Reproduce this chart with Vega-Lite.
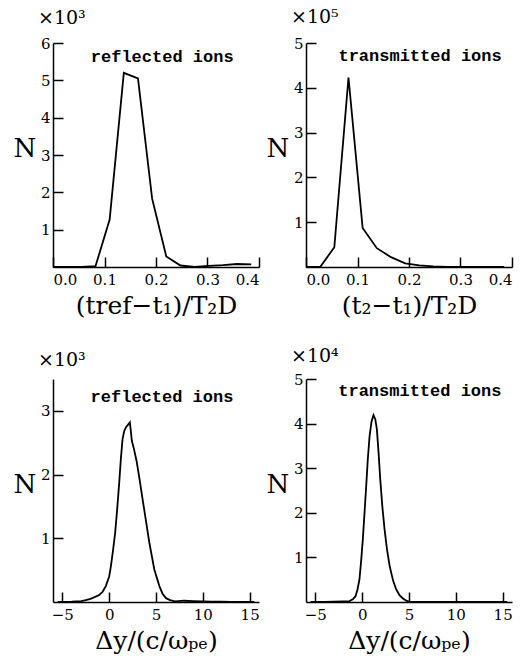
{
  "$schema": "https://vega.github.io/schema/vega-lite/v6.json",
  "background": "white",
  "padding": {"left": 13, "top": 8, "right": 5, "bottom": 5},
  "bounds": "flush",
  "columns": 2,
  "spacing": {"row": 112, "column": 47},
  "datasets": {
    "refl_t": [
      {"x": 0, "N": 0}, {"x": 0.0275, "N": 0}, {"x": 0.055, "N": 0}, {"x": 0.0825, "N": 0.02},
      {"x": 0.11, "N": 1.27}, {"x": 0.1375, "N": 5.2}, {"x": 0.165, "N": 5.05}, {"x": 0.1925, "N": 1.83},
      {"x": 0.22, "N": 0.28}, {"x": 0.2475, "N": 0.04}, {"x": 0.275, "N": 0.0}, {"x": 0.3025, "N": 0.03},
      {"x": 0.33, "N": 0.05}, {"x": 0.3575, "N": 0.08}, {"x": 0.385, "N": 0.07}
    ],
    "trans_t": [
      {"x": 0, "N": 0}, {"x": 0.0275, "N": 0}, {"x": 0.055, "N": 0.44}, {"x": 0.0825, "N": 4.23},
      {"x": 0.11, "N": 0.87}, {"x": 0.1375, "N": 0.42}, {"x": 0.165, "N": 0.22}, {"x": 0.1925, "N": 0.08},
      {"x": 0.22, "N": 0.035}, {"x": 0.2475, "N": 0.015}, {"x": 0.275, "N": 0.005}, {"x": 0.3025, "N": 0},
      {"x": 0.33, "N": 0}, {"x": 0.3575, "N": 0}, {"x": 0.385, "N": 0}
    ],
    "refl_y": [
      {"x": -5.5, "N": 0}, {"x": -5, "N": 0}, {"x": -4, "N": 0.005}, {"x": -3, "N": 0.015},
      {"x": -2.5, "N": 0.03}, {"x": -2, "N": 0.05}, {"x": -1.5, "N": 0.08}, {"x": -1.07, "N": 0.11},
      {"x": -0.7, "N": 0.16}, {"x": -0.36, "N": 0.25}, {"x": 0, "N": 0.4}, {"x": 0.18, "N": 0.56},
      {"x": 0.4, "N": 0.8}, {"x": 0.64, "N": 1.09}, {"x": 0.85, "N": 1.45}, {"x": 1.07, "N": 1.87},
      {"x": 1.25, "N": 2.25}, {"x": 1.43, "N": 2.56}, {"x": 1.6, "N": 2.68}, {"x": 1.78, "N": 2.74},
      {"x": 2.0, "N": 2.78}, {"x": 2.21, "N": 2.82}, {"x": 2.3, "N": 2.7}, {"x": 2.42, "N": 2.53},
      {"x": 2.65, "N": 2.4}, {"x": 2.93, "N": 2.21}, {"x": 3.25, "N": 1.92}, {"x": 3.57, "N": 1.61},
      {"x": 3.9, "N": 1.3}, {"x": 4.29, "N": 0.93}, {"x": 4.82, "N": 0.51}, {"x": 5.36, "N": 0.25},
      {"x": 5.7, "N": 0.13}, {"x": 6.07, "N": 0.06}, {"x": 6.5, "N": 0.03}, {"x": 7, "N": 0.01},
      {"x": 8, "N": 0.02}, {"x": 9, "N": 0.015}, {"x": 10, "N": 0.01}, {"x": 11, "N": 0.005},
      {"x": 12, "N": 0.005}, {"x": 13, "N": 0.003}, {"x": 14, "N": 0.002}, {"x": 15, "N": 0.002},
      {"x": 15.5, "N": 0}
    ],
    "trans_y": [
      {"x": -5.5, "N": 0}, {"x": -5, "N": 0.005}, {"x": -4, "N": 0.005}, {"x": -3, "N": 0.008},
      {"x": -2, "N": 0.015}, {"x": -1.36, "N": 0.02}, {"x": -1, "N": 0.06}, {"x": -0.71, "N": 0.13},
      {"x": -0.5, "N": 0.28}, {"x": -0.29, "N": 0.51}, {"x": -0.1, "N": 0.95}, {"x": 0.07, "N": 1.41},
      {"x": 0.25, "N": 2.0}, {"x": 0.43, "N": 2.6}, {"x": 0.6, "N": 3.2}, {"x": 0.79, "N": 3.72},
      {"x": 1.0, "N": 4.05}, {"x": 1.21, "N": 4.19}, {"x": 1.4, "N": 4.1}, {"x": 1.57, "N": 3.87},
      {"x": 1.75, "N": 3.35}, {"x": 1.93, "N": 2.75}, {"x": 2.15, "N": 2.15}, {"x": 2.39, "N": 1.63},
      {"x": 2.65, "N": 1.18}, {"x": 2.93, "N": 0.81}, {"x": 3.3, "N": 0.48}, {"x": 3.64, "N": 0.28},
      {"x": 4.0, "N": 0.15}, {"x": 4.36, "N": 0.08}, {"x": 4.7, "N": 0.03}, {"x": 5.07, "N": 0.005},
      {"x": 6, "N": 0}, {"x": 15.5, "N": 0}
    ]
  },
  "concat": [
    {
      "width": 206, "height": 224,
      "title": {"text": "×10³", "offset": 8},
      "layer": [
        {
          "data": {"name": "refl_t"},
          "mark": {"type": "line", "color": "black", "strokeWidth": 1.8},
          "encoding": {
            "x": {"field": "x", "type": "quantitative", "scale": {"domain": [0, 0.4], "nice": false, "zero": false},
                  "axis": {"values": [0, 0.1, 0.2, 0.3, 0.4], "format": ".1f", "title": "(tref−t₁)/T₂D"}},
            "y": {"field": "N", "type": "quantitative", "scale": {"domain": [0, 6], "nice": false},
                  "axis": {"values": [1, 2, 3, 4, 5, 6], "format": "d", "title": "N"}}
          }
        },
        {
          "data": {"values": [{"label": "reflected ions"}]},
          "mark": {"type": "text", "font": "Liberation Mono", "fontWeight": "bold", "fontSize": 17, "align": "center", "baseline": "alphabetic", "color": "black"},
          "encoding": {"x": {"datum": 0.212}, "y": {"datum": 5.49}, "text": {"field": "label"}}
        }
      ]
    },
    {
      "width": 206, "height": 224,
      "title": {"text": "×10⁵", "offset": 9},
      "layer": [
        {
          "data": {"name": "trans_t"},
          "mark": {"type": "line", "color": "black", "strokeWidth": 1.8},
          "encoding": {
            "x": {"field": "x", "type": "quantitative", "scale": {"domain": [0, 0.4], "nice": false, "zero": false},
                  "axis": {"values": [0, 0.1, 0.2, 0.3, 0.4], "format": ".1f", "title": "(t₂−t₁)/T₂D"}},
            "y": {"field": "N", "type": "quantitative", "scale": {"domain": [0, 5], "nice": false},
                  "axis": {"values": [1, 2, 3, 4, 5], "format": "d", "title": "N"}}
          }
        },
        {
          "data": {"values": [{"label": "transmitted ions"}]},
          "mark": {"type": "text", "font": "Liberation Mono", "fontWeight": "bold", "fontSize": 17, "align": "center", "baseline": "alphabetic", "color": "black"},
          "encoding": {"x": {"datum": 0.2215}, "y": {"datum": 4.59}, "text": {"field": "label"}}
        }
      ]
    },
    {
      "width": 206, "height": 223,
      "title": {"text": "×10³", "offset": 9},
      "layer": [
        {
          "data": {"name": "refl_y"},
          "mark": {"type": "line", "color": "black", "strokeWidth": 1.8},
          "encoding": {
            "x": {"field": "x", "type": "quantitative", "scale": {"domain": [-6, 16], "nice": false, "zero": false},
                  "axis": {"values": [-5, 0, 5, 10, 15], "format": "d", "title": "Δy/(c/ωₚₑ)"}},
            "y": {"field": "N", "type": "quantitative", "scale": {"domain": [0, 3.5], "nice": false},
                  "axis": {"values": [1, 2, 3], "format": "d", "title": "N"}}
          }
        },
        {
          "data": {"values": [{"label": "reflected ions"}]},
          "mark": {"type": "text", "font": "Liberation Mono", "fontWeight": "bold", "fontSize": 17, "align": "center", "baseline": "alphabetic", "color": "black"},
          "encoding": {"x": {"datum": 5.64}, "y": {"datum": 3.145}, "text": {"field": "label"}}
        }
      ]
    },
    {
      "width": 206, "height": 223,
      "title": {"text": "×10⁴", "offset": 6},
      "layer": [
        {
          "data": {"name": "trans_y"},
          "mark": {"type": "line", "color": "black", "strokeWidth": 1.8},
          "encoding": {
            "x": {"field": "x", "type": "quantitative", "scale": {"domain": [-6, 16], "nice": false, "zero": false},
                  "axis": {"values": [-5, 0, 5, 10, 15], "format": "d", "title": "Δy/(c/ωₚₑ)"}},
            "y": {"field": "N", "type": "quantitative", "scale": {"domain": [0, 5], "nice": false},
                  "axis": {"values": [1, 2, 3, 4, 5], "format": "d", "title": "N"}}
          }
        },
        {
          "data": {"values": [{"label": "transmitted ions"}]},
          "mark": {"type": "text", "font": "Liberation Mono", "fontWeight": "bold", "fontSize": 17, "align": "center", "baseline": "alphabetic", "color": "black"},
          "encoding": {"x": {"datum": 6.16}, "y": {"datum": 4.63}, "text": {"field": "label"}}
        }
      ]
    }
  ],
  "config": {
    "view": {"stroke": null},
    "axis": {
      "grid": false,
      "domainColor": "black", "domainWidth": 1.5,
      "tickColor": "black", "tickWidth": 1.5, "tickSize": -10,
      "labelFont": "DejaVu Serif", "labelFontSize": 15, "labelColor": "black",
      "titleFont": "DejaVu Serif", "titleColor": "black", "titleFontWeight": "normal"
    },
    "axisX": {"labelPadding": 15, "titleFontSize": 25, "titlePadding": 6},
    "axisY": {"labelPadding": 13, "titleFontSize": 26, "titleAngle": 0, "titleX": -40, "titleY": 113, "titleAlign": "left", "titleBaseline": "alphabetic"},
    "title": {"font": "DejaVu Serif", "fontSize": 19, "fontWeight": "normal", "color": "black", "anchor": "start", "frame": "group", "dx": -15, "baseline": "alphabetic"}
  }
}
